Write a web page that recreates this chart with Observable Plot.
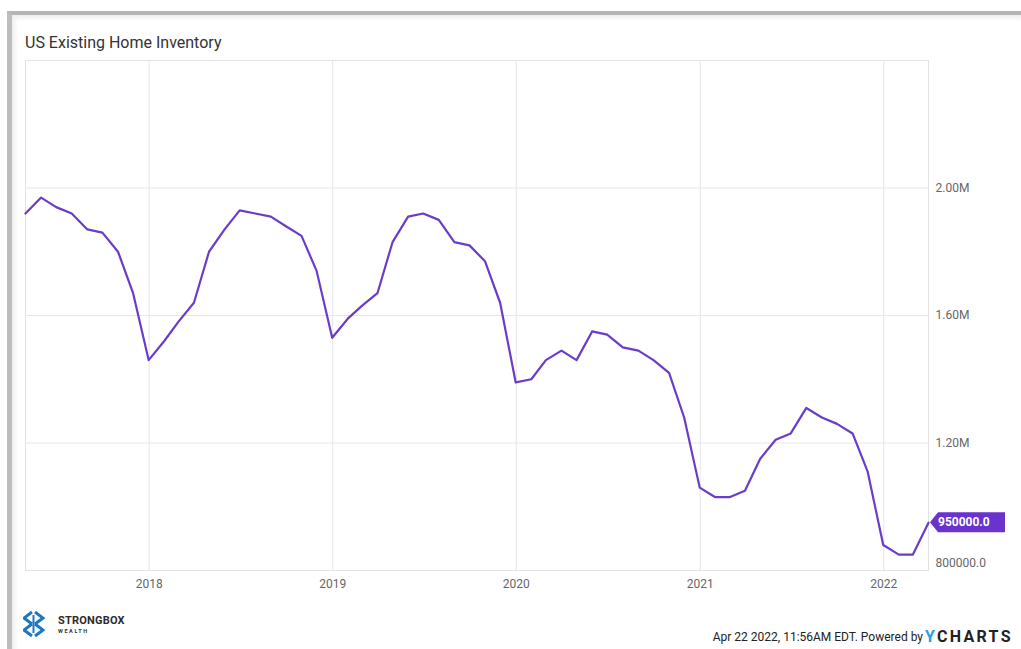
<!DOCTYPE html>
<html><head><meta charset="utf-8">
<script src="https://cdn.jsdelivr.net/npm/d3@7"></script>
<script src="https://cdn.jsdelivr.net/npm/@observablehq/plot@0.6"></script>
<style>
html,body{margin:0;padding:0;background:#fff;}
body{width:1021px;height:649px;position:relative;overflow:hidden;font-family:Roboto,"Open Sans",sans-serif;}
#frame{position:absolute;left:7px;top:11px;width:1014px;height:638px;box-sizing:border-box;border-left:5px solid #bdbdbd;border-top:4px solid #b5b5b5;box-shadow:inset 3px 3px 4px rgba(0,0,0,0.07);}
#chart{position:absolute;left:0;top:0;}
#title{position:absolute;left:25px;top:33px;font-size:16px;color:#333;white-space:nowrap;}
#logo{position:absolute;left:23px;top:611px;}
#brand{position:absolute;left:58px;top:614px;font-size:11px;font-weight:700;color:#2b2b2b;letter-spacing:0.2px;}
#brand2{position:absolute;left:58px;top:628px;font-size:5.5px;font-weight:700;color:#333;letter-spacing:1.6px;}
#stamp{position:absolute;right:98px;top:630px;font-size:12px;color:#222;white-space:nowrap;}
#ych{position:absolute;left:925px;top:627px;font-size:16px;font-weight:700;color:#222;letter-spacing:2.3px;white-space:nowrap;}
#ych span{color:#1fa3e0;}
</style>
</head><body>
<div id="frame"></div>
<div id="chart"></div>
<div id="title">US Existing Home Inventory</div>
<svg id="logo" width="22" height="26" viewBox="0 0 22 26">
  <path d="M9 1 L1 7 L9 13" fill="none" stroke="#1d78c1" stroke-width="3"/>
  <path d="M12 1 L20 7 L12 13" fill="none" stroke="#1d78c1" stroke-width="3"/>
  <path d="M10.5 4 L10.5 22" fill="none" stroke="#1d78c1" stroke-width="2"/>
  <path d="M9 13 L1 19 L9 25" fill="none" stroke="#1d78c1" stroke-width="3"/>
  <path d="M12 13 L20 19 L12 25" fill="none" stroke="#1d78c1" stroke-width="3"/>
</svg>
<div id="brand">STRONGBOX</div>
<div id="brand2">WEALTH</div>
<div id="stamp">Apr 22 2022, 11:56AM EDT. Powered by</div>
<div id="ych"><span>Y</span>CHARTS</div>
<script>
const months = [
  "2017-04","2017-05","2017-06","2017-07","2017-08","2017-09","2017-10","2017-11","2017-12",
  "2018-01","2018-02","2018-03","2018-04","2018-05","2018-06","2018-07","2018-08","2018-09","2018-10","2018-11","2018-12",
  "2019-01","2019-02","2019-03","2019-04","2019-05","2019-06","2019-07","2019-08","2019-09","2019-10","2019-11","2019-12",
  "2020-01","2020-02","2020-03","2020-04","2020-05","2020-06","2020-07","2020-08","2020-09","2020-10","2020-11","2020-12",
  "2021-01","2021-02","2021-03","2021-04","2021-05","2021-06","2021-07","2021-08","2021-09","2021-10","2021-11","2021-12",
  "2022-01","2022-02","2022-03"
];
const inventory = [
  1920000,1970000,1940000,1920000,1870000,1860000,1800000,1670000,1460000,
  1520000,1580000,1640000,1800000,1870000,1930000,1920000,1910000,1880000,1850000,1740000,1530000,
  1590000,1630000,1670000,1830000,1910000,1920000,1900000,1830000,1820000,1770000,1640000,1390000,
  1400000,1460000,1490000,1460000,1550000,1540000,1500000,1490000,1460000,1420000,1280000,1060000,
  1030000,1030000,1050000,1150000,1210000,1230000,1310000,1280000,1260000,1230000,1110000,880000,
  850000,850000,950000
];
const yearTicks = ["2018-01-01","2019-01-01","2020-01-01","2021-01-01","2022-01-01"];
const yTicks = [1200000,1600000,2000000];
const yBottomTick = 800000;
const yDomain = [800000, 2400000];
const lastLabel = "950000.0";

const parseM = d3.utcParse("%Y-%m");
const endOfMonth = s => d3.utcDay.offset(d3.utcMonth.offset(parseM(s), 1), -1);
const data = months.map((m, i) => ({date: endOfMonth(m), value: inventory[i]}));
const years = yearTicks.map(s => new Date(s + "T00:00:00Z"));
const fmtM = v => (v / 1e6).toFixed(2) + "M";

const plot = Plot.plot({
  width: 1021,
  height: 649,
  marginLeft: 25,
  marginRight: 93,
  marginTop: 60,
  marginBottom: 79,
  style: {fontFamily: "Roboto, sans-serif", background: "transparent", overflow: "visible"},
  x: {type: "utc", domain: [data[0].date, data[data.length - 1].date]},
  y: {domain: yDomain, axis: null},
  marks: [
    Plot.gridX(years, {stroke: "#e6e6e6", strokeOpacity: 1}),
    Plot.gridY(yTicks, {stroke: "#e6e6e6", strokeOpacity: 1}),
    Plot.frame({stroke: "#e2e2e2"}),
    Plot.axisX(years, {tickSize: 0, tickPadding: 9, tickFormat: "%Y", fontSize: 12, fill: "#666", label: null}),
    Plot.text(yTicks, {y: d => d, frameAnchor: "right", dx: 7, textAnchor: "start", text: fmtM, fontSize: 12, fill: "#666"}),
    Plot.text([yBottomTick], {y: d => d, frameAnchor: "right", dx: 7, dy: -7, textAnchor: "start", text: () => "800000.0", fontSize: 12, fill: "#666"}),
    Plot.line(data, {x: "date", y: "value", stroke: "#6a3dc9", strokeWidth: 2.2})
  ]
});
document.getElementById("chart").appendChild(plot);

// value tag at the last point, positioned through the plot's scales
const last = data[data.length - 1];
const px = plot.scale("x").apply(last.date);
const py = plot.scale("y").apply(last.value);
const g = d3.select(plot).append("g").attr("transform", `translate(${px},${py})`);
g.append("path")
  .attr("d", "M2,0 L10,-10 L77,-10 L77,10 L10,10 Z")
  .attr("fill", "#6a33cc");
g.append("text")
  .attr("x", 10).attr("y", 0).attr("dy", "0.35em")
  .attr("text-anchor", "start")
  .attr("fill", "#fff").attr("font-size", 12).attr("font-weight", 700)
  .attr("font-family", "Roboto, sans-serif")
  .text(lastLabel);
</script>
</body></html>
